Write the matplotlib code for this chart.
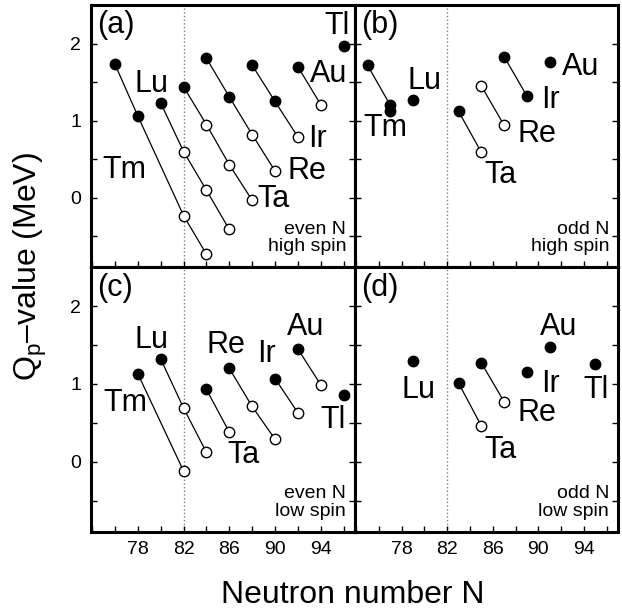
import numpy as np
import matplotlib.pyplot as plt

plt.rcParams['font.family'] = ['Liberation Sans', 'DejaVu Sans']
plt.rcParams['mathtext.fontset'] = 'custom'
plt.rcParams['mathtext.rm'] = 'Liberation Sans'

# (a) even N, high spin
a_elem = ['Tm', 'Tm', 'Tm', 'Tm', 'Lu', 'Lu', 'Lu', 'Lu', 'Ta', 'Ta', 'Ta', 'Ta',
          'Re', 'Re', 'Re', 'Re', 'Ir', 'Ir', 'Ir', 'Au', 'Au', 'Tl']
a_n = [76, 78, 82, 84, 80, 82, 84, 86, 82, 84, 86, 88,
       84, 86, 88, 90, 88, 90, 92, 92, 94, 96]
a_q = [1.73, 1.06, -0.23, -0.73, 1.23, 0.60, 0.10, -0.41, 1.44, 0.95, 0.43, -0.03,
       1.81, 1.31, 0.82, 0.35, 1.72, 1.25, 0.79, 1.70, 1.21, 1.97]
a_filled = [1, 1, 0, 0, 1, 0, 0, 0, 1, 0, 0, 0,
            1, 1, 0, 0, 1, 1, 0, 1, 0, 1]

# (b) odd N, high spin
b_elem = ['Tm', 'Tm', 'Tm', 'Lu', 'Ta', 'Ta', 'Re', 'Re', 'Ir', 'Ir', 'Au']
b_n = [75, 77, 77, 79, 83, 85, 85, 87, 87, 89, 91]
b_q = [1.72, 1.20, 1.13, 1.27, 1.12, 0.59, 1.45, 0.94, 1.83, 1.32, 1.76]
b_filled = [1, 1, 1, 1, 1, 0, 0, 0, 1, 1, 1]

# (c) even N, low spin
c_elem = ['Tm', 'Tm', 'Lu', 'Lu', 'Lu', 'Ta', 'Ta', 'Re', 'Re', 'Re',
          'Ir', 'Ir', 'Au', 'Au', 'Tl']
c_n = [78, 82, 80, 82, 84, 84, 86, 86, 88, 90, 90, 92, 92, 94, 96]
c_q = [1.13, -0.12, 1.32, 0.69, 0.12, 0.93, 0.38, 1.20, 0.71, 0.29,
       1.07, 0.63, 1.45, 0.99, 0.86]
c_filled = [1, 0, 1, 0, 0, 1, 0, 1, 0, 0, 1, 0, 1, 0, 1]

# (d) odd N, low spin
d_elem = ['Lu', 'Ta', 'Ta', 'Re', 'Re', 'Ir', 'Au', 'Tl']
d_n = [79, 83, 85, 85, 87, 89, 91, 95]
d_q = [1.29, 1.01, 0.46, 1.27, 0.77, 1.15, 1.47, 1.26]
d_filled = [1, 1, 0, 1, 0, 1, 1, 1]

# where the element names sit (N, Q)
label_pos = {
    'a': {'Tm': (76.8, 0.36), 'Lu': (79.2, 1.48), 'Ta': (89.9, -0.02), 'Re': (92.8, 0.35),
          'Ir': (93.7, 0.76), 'Au': (94.7, 1.60), 'Tl': (95.4, 2.23)},
    'b': {'Tm': (76.6, 0.90), 'Lu': (80.0, 1.52), 'Ta': (86.7, 0.29), 'Re': (89.9, 0.83),
          'Ir': (91.1, 1.27), 'Au': (93.7, 1.70)},
    'c': {'Tm': (76.9, 0.75), 'Lu': (79.2, 1.56), 'Ta': (87.2, 0.09), 'Re': (85.7, 1.50),
          'Ir': (89.3, 1.39), 'Au': (92.7, 1.73), 'Tl': (95.1, 0.54)},
    'd': {'Lu': (79.5, 0.92), 'Ta': (86.7, 0.15), 'Re': (89.9, 0.62), 'Ir': (91.1, 1.00),
          'Au': (91.8, 1.73), 'Tl': (95.1, 0.92)},
}

panels = [
    ('a', a_elem, a_n, a_q, a_filled, 'even N\nhigh spin'),
    ('b', b_elem, b_n, b_q, b_filled, 'odd N\nhigh spin'),
    ('c', c_elem, c_n, c_q, c_filled, 'even N\nlow spin'),
    ('d', d_elem, d_n, d_q, d_filled, 'odd N\nlow spin'),
]

fig = plt.figure(figsize=(6.22, 6.14), dpi=100)
x0, xm, x1 = 91 / 622, 355 / 622, 618 / 622
y1, ym, y0 = 1 - 5 / 614, 1 - 267.3 / 614, 1 - 531.7 / 614
rects = {'a': [x0, ym, xm - x0, y1 - ym], 'b': [xm, ym, x1 - xm, y1 - ym],
         'c': [x0, y0, xm - x0, ym - y0], 'd': [xm, y0, x1 - xm, ym - y0]}

for key, elem, n, q, filled, corner in panels:
    ax = fig.add_axes(rects[key])
    ax.axvline(82, color='gray', ls=':', lw=1, zorder=1)
    elem = np.array(elem)
    n = np.array(n, dtype=float)
    q = np.array(q)
    filled = np.array(filled, dtype=bool)
    for el in dict.fromkeys(elem):
        m = elem == el
        ax.plot(n[m], q[m], color='black', lw=0.9, zorder=2)
    ax.plot(n[filled], q[filled], 'o', ms=7.5, mfc='black', mec='black', mew=1, zorder=3)
    ax.plot(n[~filled], q[~filled], 'o', ms=7.5, mfc='white', mec='black', mew=1, zorder=3)

    for el, (lx, ly) in label_pos[key].items():
        ax.text(lx, ly, el, fontsize=22, ha='center', va='center')
    ax.text(0.025, 0.98, '(%s)' % key, transform=ax.transAxes, fontsize=22,
            ha='left', va='top')
    ax.text(0.966, 0.045, corner, transform=ax.transAxes, fontsize=14,
            ha='right', va='bottom', linespacing=1.05)

    ax.set_xlim(73.9, 97)
    ax.set_ylim(-0.9, 2.5)
    ax.set_xticks([78, 82, 86, 90, 94])
    ax.set_xticks(np.arange(74, 97, 2), minor=True)
    ax.set_yticks([0, 1, 2])
    ax.set_yticks([-0.5, 0.5, 1.5], minor=True)
    ax.tick_params(which='both', direction='in', length=4, width=1,
                   right=True, top=False, labelsize=14, pad=7)
    for s in ax.spines.values():
        s.set_linewidth(2.2)
    if key in ('b', 'd'):
        ax.set_yticklabels([])
    if key in ('a', 'b'):
        ax.set_xticklabels([])

fig.text(353 / 622, 1 - 595 / 614, 'Neutron number N', fontsize=23,
         ha='center', va='center')
fig.text(30 / 622, 1 - 267 / 614, r'Q$_\mathregular{p}$–value (MeV)', fontsize=23,
         ha='center', va='center', rotation=90)

fig.savefig('out.png', dpi=100)
